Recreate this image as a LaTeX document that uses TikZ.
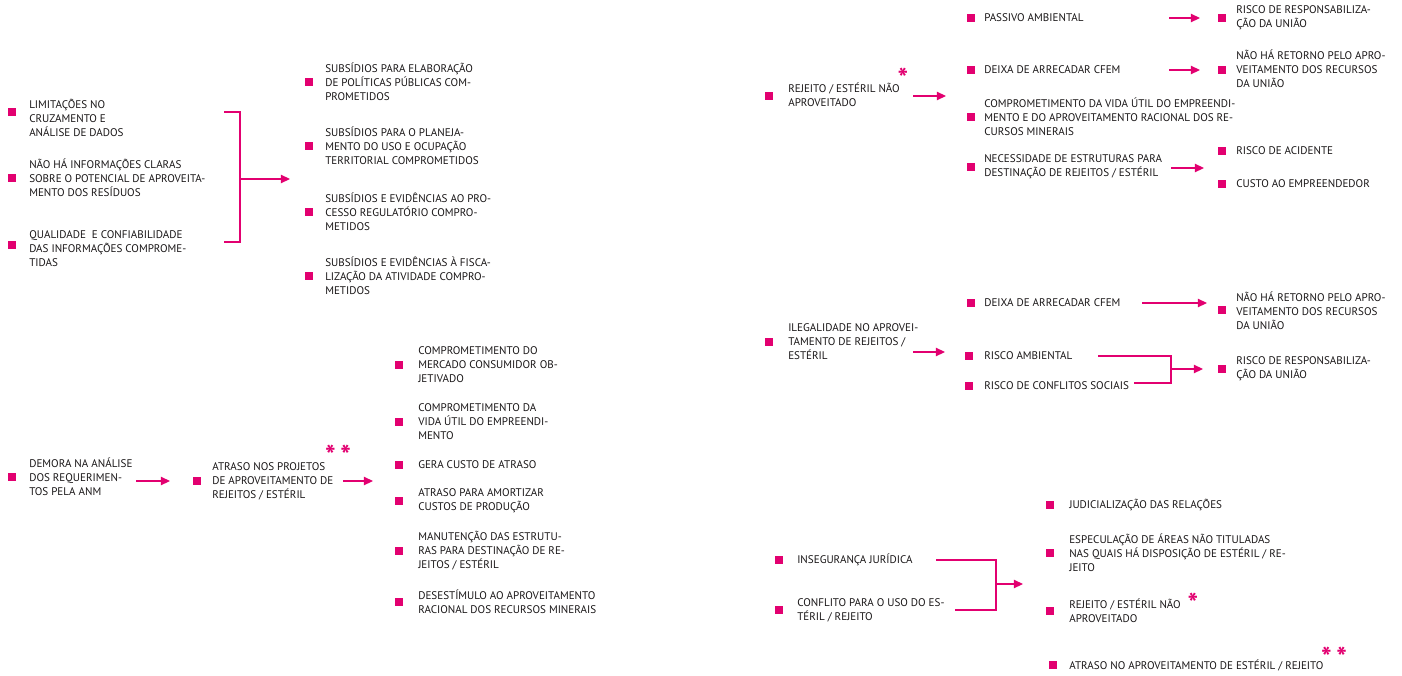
\documentclass[tikz,border=0pt]{standalone}
\usepackage{fontspec}
\setmainfont{PT Sans}
\usetikzlibrary{arrows.meta}
\definecolor{pk}{RGB}{226,0,112}
\definecolor{txt}{RGB}{25,22,23}

\begin{document}
\begin{tikzpicture}[x=0.75pt,y=0.75pt,yscale=-1,xscale=1,
	bul/.style={fill=pk,inner sep=0pt,minimum size=5.3pt},
	itm/.style={anchor=west,inner sep=0pt,align=left,text=txt,font=\fontsize{8.3}{10.5}\selectfont},
	conn/.style={draw=pk,line width=0.9pt},
	arr/.style={conn,-{Triangle[length=6.8pt,width=6.2pt]}},
	star/.style={inner sep=0pt,text=pk,anchor=north,font=\fontsize{21}{21}\bfseries\selectfont}]
	\useasboundingbox (0,0) rectangle (1402,675);

	% Text Node -- causas (topo esquerda)
	\node [bul] (b1) at (12,112) {};
	\node [itm] (t1) at (29,118) {LIMITAÇÕES NO\\CRUZAMENTO E\\ANÁLISE DE DADOS};
	\node [bul] (b2) at (12,178) {};
	\node [itm] (t2) at (29,178) {NÃO HÁ INFORMAÇÕES CLARAS\\SOBRE O POTENCIAL DE APROVEITA-\\MENTO DOS RESÍDUOS};
	\node [bul] (b3) at (12,245) {};
	\node [itm] (t3) at (29,249) {QUALIDADE\ \ E CONFIABILIDADE\\DAS INFORMAÇÕES COMPROME-\\TIDAS};
	% Text Node -- subsídios
	\node [bul] (sb1) at (309,82) {};
	\node [itm] (s1) at (325,82) {SUBSÍDIOS PARA ELABORAÇÃO\\DE POLÍTICAS PÚBLICAS COM-\\PROMETIDOS};
	\node [bul] (sb2) at (309,146) {};
	\node [itm] (s2) at (325,146) {SUBSÍDIOS PARA O PLANEJA-\\MENTO DO USO E OCUPAÇÃO\\TERRITORIAL COMPROMETIDOS};
	\node [bul] (sb3) at (309,212) {};
	\node [itm] (s3) at (325,212) {SUBSÍDIOS E EVIDÊNCIAS AO PRO-\\CESSO REGULATÓRIO COMPRO-\\METIDOS};
	\node [bul] (sb4) at (309,276) {};
	\node [itm] (s4) at (325,276) {SUBSÍDIOS E EVIDÊNCIAS À FISCA-\\LIZAÇÃO DA ATIVIDADE COMPRO-\\METIDOS};
	% Connection
	\coordinate (k1) at (224,112);
	\coordinate (k2) at (224,242);
	\coordinate (k3) at (240,179);
	\coordinate (k4) at (290,179);
	\draw [conn] (k1) -- (k1 -| k3) -- (k2 -| k3) -- (k2);
	\draw [arr] (k3) -- (k4);

	% Text Node -- demora (base esquerda)
	\node [bul] (db1) at (12,477) {};
	\node [itm] (d1) at (29,477) {DEMORA NA ANÁLISE\\DOS REQUERIMEN-\\TOS PELA ANM};
	\node [bul] (db2) at (197,481) {};
	\node [itm] (d2) at (212,481) {ATRASO NOS PROJETOS\\DE APROVEITAMENTO DE\\REJEITOS / ESTÉRIL};
	\node [star] (st1) at (338,445) {*\,*};
	% Connection
	\coordinate (m1) at (136,481);
	\coordinate (m2) at (170,481);
	\coordinate (m3) at (343,481);
	\coordinate (m4) at (373,481);
	\draw [arr] (m1) -- (m2);
	\draw [arr] (m3) -- (m4);
	% Text Node -- consequências do atraso
	\node [bul] (cb1) at (399,365) {};
	\node [itm] (c1) at (418,365) {COMPROMETIMENTO DO\\MERCADO CONSUMIDOR OB-\\JETIVADO};
	\node [bul] (cb2) at (399,422) {};
	\node [itm] (c2) at (418,422) {COMPROMETIMENTO DA\\VIDA ÚTIL DO EMPREENDI-\\MENTO};
	\node [bul] (cb3) at (399,465) {};
	\node [itm] (c3) at (418,465) {GERA CUSTO DE ATRASO};
	\node [bul] (cb4) at (399,501) {};
	\node [itm] (c4) at (418,501) {ATRASO PARA AMORTIZAR\\CUSTOS DE PRODUÇÃO};
	\node [bul] (cb5) at (399,551) {};
	\node [itm] (c5) at (418,551) {MANUTENÇÃO DAS ESTRUTU-\\RAS PARA DESTINAÇÃO DE RE-\\JEITOS / ESTÉRIL};
	\node [bul] (cb6) at (399,602) {};
	\node [itm] (c6) at (418,602) {DESESTÍMULO AO APROVEITAMENTO\\RACIONAL DOS RECURSOS MINERAIS};

	% Text Node -- rejeito não aproveitado (topo direita)
	\node [bul] (rb0) at (769,96) {};
	\node [itm] (r0) at (788,95) {REJEITO / ESTÉRIL NÃO\\APROVEITADO};
	\node [star] (st2) at (903,68) {*};
	\node [bul] (pb1) at (971,18) {};
	\node [itm] (p1) at (984,18) {PASSIVO AMBIENTAL};
	\node [bul] (pb2) at (971,70) {};
	\node [itm] (p2) at (984,70) {DEIXA DE ARRECADAR CFEM};
	\node [bul] (pb3) at (971,117) {};
	\node [itm] (p3) at (984,117) {COMPROMETIMENTO DA VIDA ÚTIL DO EMPREENDI-\\MENTO E DO APROVEITAMENTO RACIONAL DOS RE-\\CURSOS MINERAIS};
	\node [bul] (pb4) at (971,167) {};
	\node [itm] (p4) at (984,167) {NECESSIDADE DE ESTRUTURAS PARA\\DESTINAÇÃO DE REJEITOS / ESTÉRIL};
	\node [bul] (qb1) at (1222,18) {};
	\node [itm] (q1) at (1236,18) {RISCO DE RESPONSABILIZA-\\ÇÃO DA UNIÃO};
	\node [bul] (qb2) at (1222,70) {};
	\node [itm] (q2) at (1236,69) {NÃO HÁ RETORNO PELO APRO-\\VEITAMENTO DOS RECURSOS\\DA UNIÃO};
	\node [bul] (qb3) at (1222,151) {};
	\node [itm] (q3) at (1236,151) {RISCO DE ACIDENTE};
	\node [bul] (qb4) at (1222,184) {};
	\node [itm] (q4) at (1236,184) {CUSTO AO EMPREENDEDOR};
	% Connection
	\coordinate (n1) at (913,96);
	\coordinate (n2) at (946,96);
	\coordinate (n3) at (1169,18);
	\coordinate (n4) at (1200,18);
	\coordinate (n5) at (1169,70);
	\coordinate (n6) at (1200,70);
	\coordinate (n7) at (1171,168);
	\coordinate (n8) at (1204,168);
	\draw [arr] (n1) -- (n2);
	\draw [arr] (n3) -- (n4);
	\draw [arr] (n5) -- (n6);
	\draw [arr] (n7) -- (n8);

	% Text Node -- ilegalidade (meio direita)
	\node [bul] (ib0) at (769,342) {};
	\node [itm] (i0) at (788,342) {ILEGALIDADE NO APROVEI-\\TAMENTO DE REJEITOS /\\ESTÉRIL};
	\node [bul] (ib1) at (971,303) {};
	\node [itm] (i1) at (984,303) {DEIXA DE ARRECADAR CFEM};
	\node [bul] (ib2) at (969,356) {};
	\node [itm] (i2) at (984,356) {RISCO AMBIENTAL};
	\node [bul] (ib3) at (969,386) {};
	\node [itm] (i3) at (984,386) {RISCO DE CONFLITOS SOCIAIS};
	\node [bul] (jb1) at (1222,310) {};
	\node [itm] (j1) at (1236,311) {NÃO HÁ RETORNO PELO APRO-\\VEITAMENTO DOS RECURSOS\\DA UNIÃO};
	\node [bul] (jb2) at (1222,369) {};
	\node [itm] (j2) at (1236,369) {RISCO DE RESPONSABILIZA-\\ÇÃO DA UNIÃO};
	% Connection
	\coordinate (g1) at (913,352);
	\coordinate (g2) at (945,352);
	\coordinate (g3) at (1142,303);
	\coordinate (g4) at (1207,303);
	\coordinate (g5) at (1098,356);
	\coordinate (g6) at (1134,383);
	\coordinate (g7) at (1171,369);
	\coordinate (g8) at (1203,369);
	\draw [arr] (g1) -- (g2);
	\draw [arr] (g3) -- (g4);
	\draw [conn] (g5) -- (g5 -| g7) -- (g6 -| g7) -- (g6);
	\draw [arr] (g7) -- (g8);

	% Text Node -- insegurança (base direita)
	\node [bul] (ub1) at (779,560) {};
	\node [itm] (u1) at (797,560) {INSEGURANÇA JURÍDICA};
	\node [bul] (ub2) at (779,610) {};
	\node [itm] (u2) at (797,610) {CONFLITO PARA O USO DO ES-\\TÉRIL / REJEITO};
	\node [bul] (vb1) at (1050,505) {};
	\node [itm] (v1) at (1069,505) {JUDICIALIZAÇÃO DAS RELAÇÕES};
	\node [bul] (vb2) at (1050,553) {};
	\node [itm] (v2) at (1069,553) {ESPECULAÇÃO DE ÁREAS NÃO TITULADAS\\NAS QUAIS HÁ DISPOSIÇÃO DE ESTÉRIL / RE-\\JEITO};
	\node [bul] (vb3) at (1050,611) {};
	\node [itm] (v3) at (1069,611) {REJEITO / ESTÉRIL NÃO\\APROVEITADO};
	\node [star] (st3) at (1193,593) {*};
	\node [bul] (vb4) at (1053,665) {};
	\node [itm] (v4) at (1069,665) {ATRASO NO APROVEITAMENTO DE ESTÉRIL / REJEITO};
	\node [star] (st4) at (1334,647) {*\,*};
	% Connection
	\coordinate (h1) at (936,560);
	\coordinate (h2) at (955,610);
	\coordinate (h3) at (996,584);
	\coordinate (h4) at (1023,584);
	\draw [conn] (h1) -- (h1 -| h3) -- (h2 -| h3) -- (h2);
	\draw [arr] (h3) -- (h4);

\end{tikzpicture}
\end{document}
